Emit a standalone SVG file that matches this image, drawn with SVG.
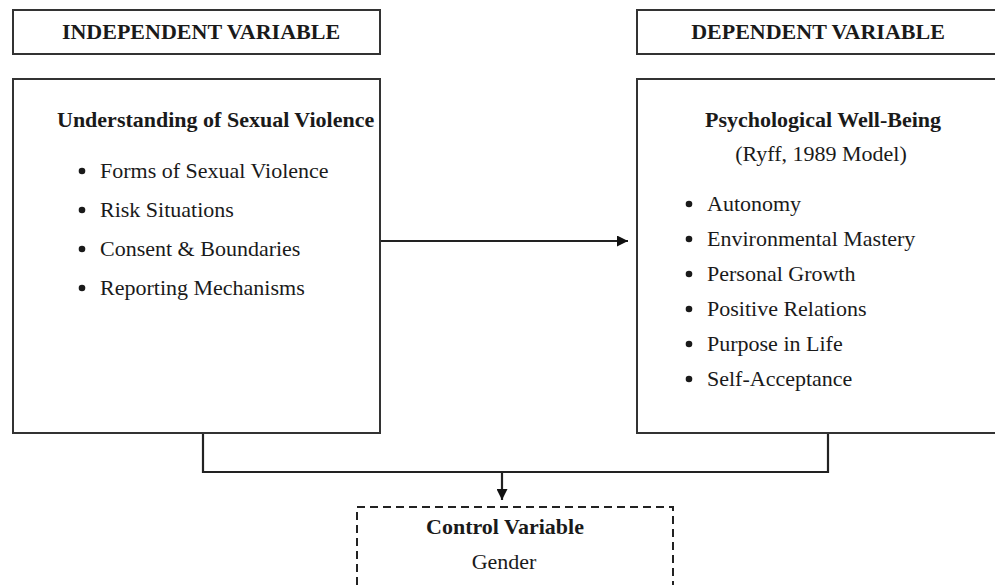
<svg xmlns="http://www.w3.org/2000/svg" width="995" height="585" viewBox="0 0 995 585">
<defs>
<style>
.box{fill:#fff;stroke:#333;stroke-width:2}
.dash{fill:#fff;stroke:#222;stroke-width:2;stroke-dasharray:8 5}
.hdr{font-family:"Liberation Serif","Times New Roman",serif;font-weight:bold;font-size:22px;fill:#1a1a1a;text-anchor:middle}
.ttl{font-family:"Liberation Serif","Times New Roman",serif;font-weight:bold;font-size:22px;fill:#1a1a1a}
.itm{font-family:"Liberation Serif","Times New Roman",serif;font-size:22px;fill:#1a1a1a}
.con{fill:none;stroke:#222;stroke-width:2.2}
</style>
<marker id="ah" viewBox="0 0 10 10" refX="10" refY="5" markerWidth="5" markerHeight="5" orient="auto" markerUnits="strokeWidth">
<path d="M0,0 L10,5 L0,10 z" fill="#111"/>
</marker>
<marker id="ah2" viewBox="0 0 10 10" refX="10" refY="5" markerWidth="5" markerHeight="5" orient="auto" markerUnits="strokeWidth">
<path d="M0,0 L10,5 L0,10 z" fill="#111"/>
</marker>
</defs>
<rect width="995" height="585" fill="#fff"/>
<g id="connectors">
<line class="con" x1="380" y1="241" x2="628" y2="241" stroke-width="2.8" marker-end="url(#ah)"/>
<polyline class="con" points="203,433 203,472 828,472 828,433"/>
<line class="con" x1="502" y1="472" x2="502" y2="500" stroke-width="1.8" marker-end="url(#ah2)"/>
</g>
<g id="iv-header">
<rect class="box" x="13" y="10" width="367" height="44"/>
<text class="hdr" x="201" y="39">INDEPENDENT VARIABLE</text>
</g>
<g id="dv-header">
<rect class="box" x="637" y="10" width="400" height="44"/>
<text class="hdr" x="818" y="39">DEPENDENT VARIABLE</text>
</g>
<g id="iv">
<rect class="box" x="13" y="79" width="367" height="354"/>
<text class="ttl" x="57" y="127">Understanding of Sexual Violence</text>
<g class="itm">
<circle cx="82" cy="171" r="3.3" fill="#1a1a1a"/><text x="100" y="178">Forms of Sexual Violence</text>
<circle cx="82" cy="210" r="3.3" fill="#1a1a1a"/><text x="100" y="217">Risk Situations</text>
<circle cx="82" cy="249" r="3.3" fill="#1a1a1a"/><text x="100" y="256">Consent &amp; Boundaries</text>
<circle cx="82" cy="288" r="3.3" fill="#1a1a1a"/><text x="100" y="295">Reporting Mechanisms</text>
</g>
</g>
<g id="dv">
<rect class="box" x="637" y="79" width="400" height="354"/>
<text class="ttl" x="823" y="127" text-anchor="middle">Psychological Well-Being</text>
<text class="itm" x="821" y="161" text-anchor="middle">(Ryff, 1989 Model)</text>
<g class="itm">
<circle cx="689" cy="204" r="3.3" fill="#1a1a1a"/><text x="707" y="211">Autonomy</text>
<circle cx="689" cy="239" r="3.3" fill="#1a1a1a"/><text x="707" y="246">Environmental Mastery</text>
<circle cx="689" cy="274" r="3.3" fill="#1a1a1a"/><text x="707" y="281">Personal Growth</text>
<circle cx="689" cy="309" r="3.3" fill="#1a1a1a"/><text x="707" y="316">Positive Relations</text>
<circle cx="689" cy="344" r="3.3" fill="#1a1a1a"/><text x="707" y="351">Purpose in Life</text>
<circle cx="689" cy="379" r="3.3" fill="#1a1a1a"/><text x="707" y="386">Self-Acceptance</text>
</g>
</g>
<g id="control">
<rect class="dash" x="357" y="507" width="316" height="100"/>
<text class="ttl" x="505" y="534" text-anchor="middle" font-size="20">Control Variable</text>
<text class="itm" x="504" y="569" text-anchor="middle" font-size="21">Gender</text>
</g>
</svg>
